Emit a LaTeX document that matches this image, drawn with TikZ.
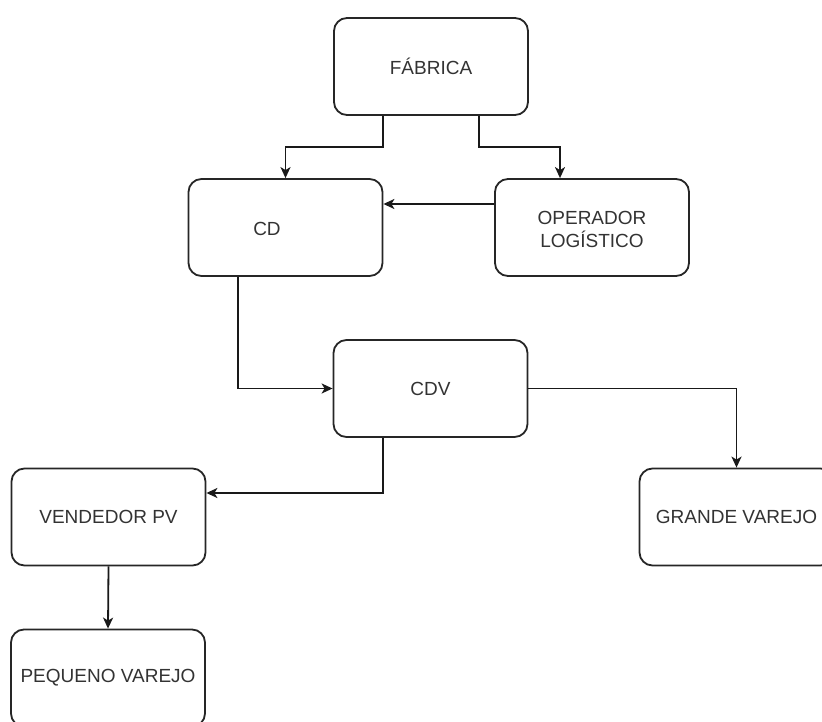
\documentclass[tikz,border=0pt]{standalone}
\usepackage{fontspec}
\setmainfont{Liberation Sans}
\usetikzlibrary{arrows.meta}
\begin{document}
\begin{tikzpicture}[x=1pt,y=-1pt,
  box/.style={draw=black!85,line width=1.8pt,rounded corners=13pt,minimum width=194pt,minimum height=97pt,inner sep=0pt,align=center,text=black!80,font=\fontsize{19}{23}\selectfont},
  lbl/.style={text=black!80,font=\fontsize{19}{23}\selectfont,align=center},
  arr/.style={draw=black!90,line width=1.8pt,-{Stealth[length=11pt,width=10pt,inset=3pt]}}]
\useasboundingbox (0,0) rectangle (822,722);
\clip (0,0) rectangle (822,722);
\fill[white] (0,0) rectangle (822,722);
\node[box] (fab) at (431,66.5) {FÁBRICA};
\node[box] (cd) at (285.5,227.5) {};
\node[lbl] (cdt) at (267,229) {CD};
\node[box] (op) at (592,227.5) {};
\node[lbl] (opt) at (592,229.5) {OPERADOR\\LOGÍSTICO};
\node[box] (cdv) at (430.5,388.5) {CDV};
\node[box] (vend) at (108.5,517) {VENDEDOR PV};
\node[box] (gv) at (736.5,517) {GRANDE VAREJO};
\node[box] (peq) at (108,678) {PEQUENO VAREJO};
\coordinate (c1) at (383,147);
\coordinate (c2) at (479,147);
\draw[arr] (c1 |- fab.south) -- (c1) -| (cd.north);
\draw[arr] (c2 |- fab.south) -- (c2) -| ([xshift=-32pt]op.north);
\draw[arr] ([yshift=23.5pt]op.west) -- ([yshift=23.5pt]cd.east);
\draw[arr] ([xshift=-47.5pt]cd.south) |- (cdv.west);
\draw[arr] ([xshift=-47.5pt]cdv.south) |- ([yshift=24pt]vend.east);
\draw[arr] (cdv.east) -| (gv.north);
\draw[arr] (vend.south) -- (peq.north);
\end{tikzpicture}
\end{document}
